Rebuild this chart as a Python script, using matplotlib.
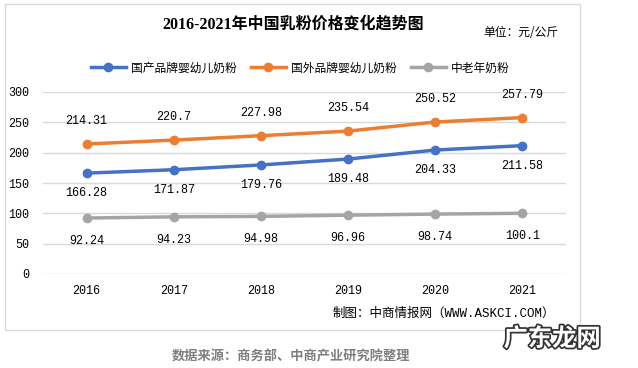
import matplotlib.pyplot as plt
import matplotlib.patheffects as pe
from matplotlib.patches import Rectangle

plt.rcParams['font.family'] = ['Noto Sans CJK SC', 'DejaVu Sans']

years = ["2016", "2017", "2018", "2019", "2020", "2021"]
domestic = [166.28, 171.87, 179.76, 189.48, 204.33, 211.58]
foreign = [214.31, 220.7, 227.98, 235.54, 250.52, 257.79]
elderly = [92.24, 94.23, 94.98, 96.96, 98.74, 100.1]
series_names = ["国产品牌婴幼儿奶粉", "国外品牌婴幼儿奶粉", "中老年奶粉"]
yticks = [0, 50, 100, 150, 200, 250, 300]

W, H = 638, 368
fig = plt.figure(figsize=(W / 100, H / 100), dpi=100)

# chart frame
fig.patches.append(Rectangle((5 / W, 1 - 330 / H), 575 / W, 326 / H,
                             transform=fig.transFigure, fill=False,
                             edgecolor="#d9d9d9", linewidth=1))

ax = fig.add_axes([43 / W, 1 - 274 / H, 523 / W, 182 / H])
x = range(len(years))
colors = ["#4472c4", "#ed7d31", "#a5a5a5"]
lines = []
for vals, c, name in zip([domestic, foreign, elderly], colors, series_names):
    ln, = ax.plot(x, vals, color=c, linewidth=2.5, marker="o", markersize=6,
                  label=name)
    lines.append(ln)

mono_cjk = ["Liberation Mono", "Noto Sans CJK SC"]
num_font = dict(family="Liberation Mono", fontsize=8.5, color="#000000")
for i, v in enumerate(foreign):
    ax.annotate(f"{v:g}", (i, v), xytext=(0, 12), textcoords="offset points",
                ha="center", va="bottom", **num_font)
for i, v in enumerate(domestic):
    ax.annotate(f"{v:g}", (i, v), xytext=(0, -10), textcoords="offset points",
                ha="center", va="top", **num_font)
for i, v in enumerate(elderly):
    ax.annotate(f"{v:g}", (i, v), xytext=(0, -12), textcoords="offset points",
                ha="center", va="top", **num_font)

ax.set_xlim(-0.5, len(years) - 0.5)
ax.set_ylim(0, 300)
ax.set_yticks(yticks)
ax.set_xticks(list(x))
ax.set_xticklabels(years, family="Liberation Mono", fontsize=8.5)
ax.set_yticklabels([str(t) for t in yticks], family="Liberation Mono",
                   fontsize=8.5)
ax.grid(axis="y", color="#d9d9d9", linewidth=1)
ax.set_axisbelow(True)
for s in ax.spines.values():
    s.set_visible(False)
ax.tick_params(length=0, pad=8)
ax.tick_params(axis="y", pad=10)

fig.text(293 / W, 1 - 25 / H, "2016-2021年中国乳粉价格变化趋势图",
         ha="center", va="center", fontsize=11.5, fontweight="bold",
         family=["Liberation Serif", "Noto Sans CJK SC"])
fig.text(558 / W, 1 - 33 / H, "单位：元/公斤", ha="right", va="center",
         fontsize=8.5)
fig.legend(handles=lines, loc="center", bbox_to_anchor=(300 / W, 1 - 68 / H),
           ncol=3, frameon=False, fontsize=8.5, handlelength=3,
           columnspacing=1.2, handletextpad=0.4)
fig.text(555 / W, 1 - 314 / H, "制图：中商情报网（WWW.ASKCI.COM）",
         ha="right", va="center", fontsize=9, family=mono_cjk)
fig.text(291 / W, 1 - 356 / H, "数据来源：商务部、中商产业研究院整理",
         ha="center", va="center", fontsize=9.5, fontweight="bold",
         color="#7f7f7f")
fig.text(552 / W, 1 - 339 / H, "广东龙网", ha="center", va="center",
         fontsize=17.5, fontweight="bold", color="white",
         path_effects=[pe.withStroke(linewidth=2.5, foreground="#333333")])

fig.savefig("out.png", dpi=100)
